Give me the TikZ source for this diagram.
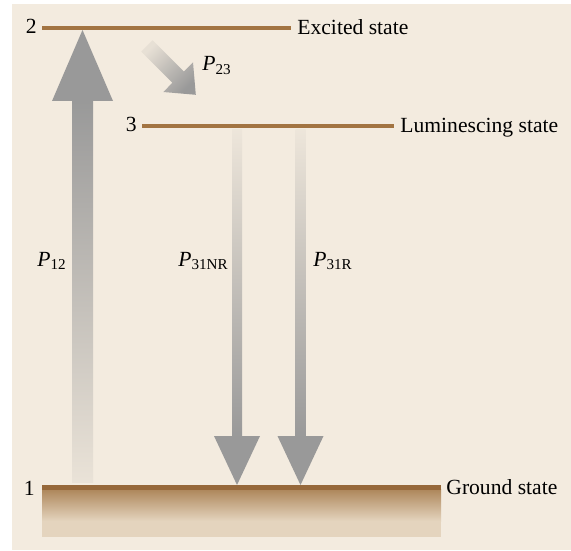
\documentclass[tikz,border=0pt]{standalone}
\usepackage{fontspec}
\setmainfont{Liberation Serif}
\definecolor{paper}{HTML}{F3EBDF}
\definecolor{level}{HTML}{A27442}
\definecolor{arrowgray}{HTML}{999999}
\definecolor{groundtop}{HTML}{96683A}
\definecolor{groundmid}{HTML}{AD865A}
\definecolor{groundlow}{HTML}{E4D4BE}

\begin{document}
\begin{tikzpicture}[x=0.5pt,y=-0.5pt,
    lvl/.style={line width=2pt,level},
    num/.style={anchor=base east,inner sep=0pt},
    tag/.style={anchor=base west,inner sep=0pt},
    every node/.style={font=\fontsize{10.8}{13}\selectfont}]
  \useasboundingbox (0,0) rectangle (571,550);
  \fill[paper] (12,4) rectangle (571,550);
  \draw[lvl] (42,28) coordinate (l2a) -- (291,28) coordinate (l2b);
  \draw[lvl] (142,126) coordinate (l3a) -- (394,126) coordinate (l3b);
  \shade[top color=groundmid, bottom color=groundlow] (42,489) rectangle (441,521);
  \fill[groundlow] (42,521) rectangle (441,537);
  \fill[groundtop] (42,485) coordinate (l1a) rectangle (441,490) coordinate (l1b);
  \shade[top color=arrowgray, bottom color=paper!92!gray] (72,101) rectangle (93,482);
  \fill[arrowgray] (52,101) -- (82.5,30) -- (113,101) -- cycle;
  \foreach \x in {237,300.5}{
    \shade[top color=paper!95!gray, bottom color=arrowgray] (\x-5,130) rectangle (\x+5,437);
    \fill[arrowgray] (\x-23,436) -- (\x,485) -- (\x+23,436) -- cycle;
  }
  \shade[top color=paper!90!gray, bottom color=arrowgray, shading angle=45]
      (152.7,40.3) -- (183.8,71.5) -- (193,62.3) -- (195.8,94.8)
      -- (163.3,92) -- (172.4,82.8) -- (141.3,51.7) -- cycle;
  \node[num] (n2) at (37,34) {2};
  \node[num] (n3) at (137,132) {3};
  \node[num] (n1) at (35,495) {1};
  \node[tag] (excited) at (297,35) {Excited state};
  \node[tag] (lumin) at (400,133) {Luminescing state};
  \node[tag] (ground) at (446,494) {Ground state};
  \node[tag] (p12) at (37,266) {\textit{P}\textsubscript{12}};
  \node[tag] (p31nr) at (178,266) {\textit{P}\textsubscript{31NR}};
  \node[tag] (p31r) at (313,266) {\textit{P}\textsubscript{31R}};
  \node[tag] (p23) at (202,71) {\textit{P}\textsubscript{23}};
\end{tikzpicture}
\end{document}
